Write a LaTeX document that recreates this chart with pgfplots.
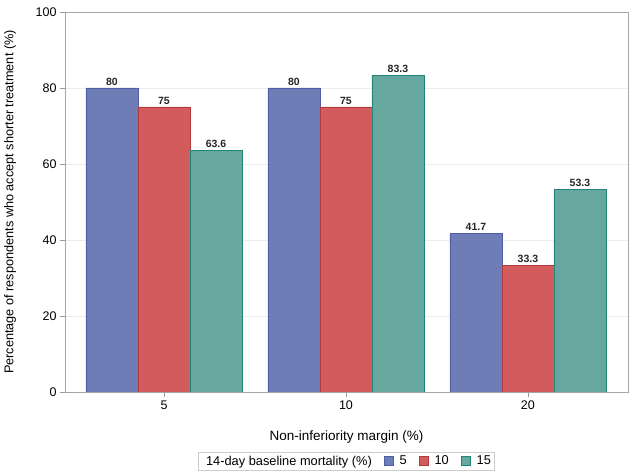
\documentclass[border=0pt]{standalone}
\usepackage{fontspec}
\setmainfont{Liberation Sans}
\usepackage{pgfplots}
\pgfplotsset{compat=1.18}
\definecolor{cblue}{HTML}{6F7DB6}
\definecolor{eblue}{HTML}{4E5DA8}
\definecolor{cred}{HTML}{D35B5C}
\definecolor{ered}{HTML}{B23A3C}
\definecolor{cteal}{HTML}{66A8A0}
\definecolor{eteal}{HTML}{1F8577}
\begin{document}
\begin{tikzpicture}
\begin{axis}[name=ax, scale only axis, width=563pt, height=380pt,
  ybar=0pt, bar width=52pt,
  xmin=-0.544, xmax=2.55, ymin=0, ymax=100,
  xtick={0,1,2}, xticklabels={5,10,20},
  ytick={0,20,...,100},
  ymajorgrids, grid style={gray!15},
  axis line style={gray!70}, tick style={gray!80, line width=0.6pt},
  tick align=outside, xtick pos=bottom, ytick pos=left, major tick length=5pt,
  /pgf/number format/assume math mode=true,
  tick label style={font=\fontsize{12.5}{14}\selectfont},
  xlabel style={font=\fontsize{13.5}{15}\selectfont},
  ylabel style={font=\fontsize{12.7}{14}\selectfont},
  xlabel={Non-inferiority margin (\%)},
  ylabel={Percentage of respondents who accept shorter treatment (\%)},
  xlabel style={at={(axis description cs:0.5,-0.118)}, anchor=center},
  ylabel style={at={(axis description cs:-0.0977,0.5)}, anchor=center},
  nodes near coords,
  every node near coord/.append style={font=\bfseries\fontsize{10.5}{12}\selectfont, color=black!85, yshift=-1pt},
  legend columns=4,
  legend style={at={(axis description cs:0.5,-0.182)}, anchor=center, draw=gray!40,
    font=\fontsize{12.8}{14}\selectfont, inner sep=1.5pt,
    /tikz/every odd column/.append style={column sep=4pt},
    /tikz/every even column/.append style={column sep=10pt}},
  legend image code/.code={\draw[#1, line width=0.8pt] (0pt,-4pt) rectangle (9pt,5pt);},
]
\addlegendimage{empty legend}
\addlegendentry{14-day baseline mortality (\%)}
\addplot[fill=cblue, draw=eblue, line width=0.8pt] coordinates {(0,80) (1,80) (2,41.7)};
\addlegendentry{5}
\addplot[fill=cred, draw=ered, line width=0.8pt] coordinates {(0,75) (1,75) (2,33.3)};
\addlegendentry{10}
\addplot[fill=cteal, draw=eteal, line width=0.8pt] coordinates {(0,63.6) (1,83.3) (2,53.3)};
\addlegendentry{15}
\end{axis}
\pgfresetboundingbox
\path ([xshift=-65pt,yshift=-84pt]ax.south west) rectangle ([xshift=8pt,yshift=12pt]ax.north east);
\end{tikzpicture}
\end{document}
